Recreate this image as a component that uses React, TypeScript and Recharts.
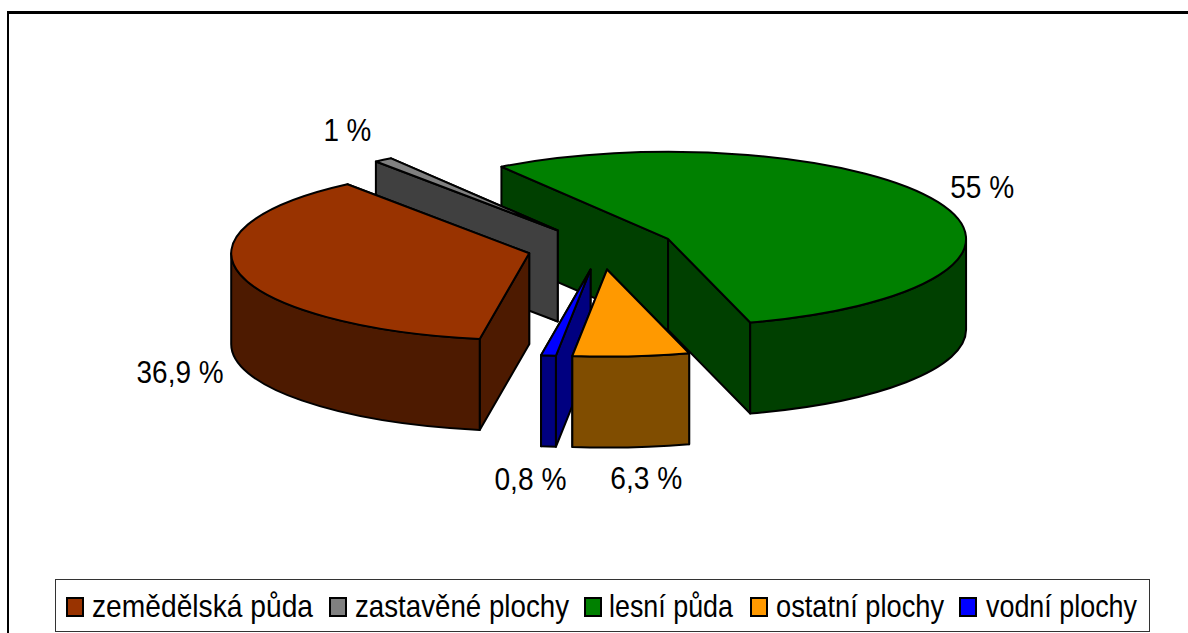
import React from 'react';
import { PieChart, Pie, Legend } from 'recharts';

const categories = ['zemědělská půda', 'zastavěné plochy', 'lesní půda', 'ostatní plochy', 'vodní plochy'];
const shares = [36.9, 1, 55, 6.3, 0.8];
const topColors = ['#993300', '#808080', '#008000', '#FF9900', '#0000FF'];
const wallColors = ['#4D1A00', '#404040', '#004000', '#804D00', '#000080'];

// label placement relative to the rim point of each slice, in legend order
const labelShiftX = [-60, -36, 44, 15, -18];
const labelShiftY = [98, -30, -15, 122, 123];
const labelWidths = [87, 48, 64, 72, 72];

// legend layout inside its box, text is squeezed like in the original
const swatchX = [11, 274, 529, 695, 904];
const legendTextX = [37, 300, 554, 721, 931];
const legendTextWidths = [221, 214, 124, 168, 151];

// the pie runs counter-clockwise from the forest slice, so slices also paint back to front
const paintOrder = [2, 1, 0, 4, 3];
const pieData = paintOrder.map(i => ({
  name: categories[i],
  value: shares[i],
  top: topColors[i],
  wall: wallColors[i],
  shiftX: labelShiftX[i],
  shiftY: labelShiftY[i],
  labelWidth: labelWidths[i],
}));

// fake 3D look
const SQUASH = 0.292;
const DEPTH = 91;
const EXPLODE = 74;
const RAD = Math.PI / 180;

const rimPoint = (ox: number, oy: number, r: number, deg: number) => ({
  x: ox + r * Math.cos(deg * RAD),
  y: oy - r * SQUASH * Math.sin(deg * RAD),
});

const apexOf = (cx: number, cy: number, mid: number) => rimPoint(cx, cy, EXPLODE, mid);

function Slice3D(props: any) {
  const { cx, cy, outerRadius: r, startAngle, endAngle, payload } = props;
  const a1 = Math.min(startAngle, endAngle);
  const a2 = Math.max(startAngle, endAngle);
  const apex = apexOf(cx, cy, (a1 + a2) / 2);
  const rx = r;
  const ry = r * SQUASH;
  const p1 = rimPoint(apex.x, apex.y, r, a1);
  const p2 = rimPoint(apex.x, apex.y, r, a2);
  const large = a2 - a1 > 180 ? 1 : 0;

  const topPath = `M${apex.x},${apex.y} L${p1.x},${p1.y} A${rx},${ry} 0 ${large} 0 ${p2.x},${p2.y} Z`;

  // radial walls, the one further back goes first
  const sides = [p1, p2]
    .sort((m, n) => m.y - n.y)
    .map(p => `M${apex.x},${apex.y} L${p.x},${p.y} L${p.x},${p.y + DEPTH} L${apex.x},${apex.y + DEPTH} Z`);

  // rim wall only exists on the front half of the ellipse
  const rims: string[] = [];
  [[-180, 0], [180, 360]].forEach(([lo, hi]) => {
    const b1 = Math.max(a1, lo);
    const b2 = Math.min(a2, hi);
    if (b2 > b1) {
      const q1 = rimPoint(apex.x, apex.y, r, b1);
      const q2 = rimPoint(apex.x, apex.y, r, b2);
      rims.push(
        `M${q1.x},${q1.y} A${rx},${ry} 0 0 0 ${q2.x},${q2.y} L${q2.x},${q2.y + DEPTH} A${rx},${ry} 0 0 1 ${q1.x},${q1.y + DEPTH} Z`
      );
    }
  });

  return (
    <g stroke="#000" strokeWidth={2} strokeLinejoin="round">
      {sides.map((d, i) => (
        <path key={`side-${i}`} d={d} fill={payload.wall} />
      ))}
      {rims.map((d, i) => (
        <path key={`rim-${i}`} d={d} fill={payload.wall} />
      ))}
      <path d={topPath} fill={payload.top} />
    </g>
  );
}

function renderLabel(props: any) {
  const { cx, cy, outerRadius, midAngle, payload, value } = props;
  const apex = apexOf(cx, cy, midAngle);
  const rim = rimPoint(apex.x, apex.y, outerRadius, midAngle);
  return (
    <text
      x={rim.x + payload.shiftX}
      y={rim.y + payload.shiftY}
      textAnchor="middle"
      dominantBaseline="central"
      fontFamily="Liberation Sans"
      fontSize={32}
      textLength={payload.labelWidth}
      lengthAdjust="spacingAndGlyphs"
      fill="#000"
      stroke="none"
    >
      {`${String(value).replace('.', ',')} %`}
    </text>
  );
}

function ChartLegend() {
  return (
    <svg width={1133} height={54} style={{ display: 'block' }}>
      <rect x={0.5} y={0.5} width={1094} height={52} fill="#fff" stroke="#333" />
      {categories.map((name, i) => (
        <g key={name}>
          <rect x={swatchX[i] + 1} y={19} width={16} height={18} fill={topColors[i]} stroke="#000" strokeWidth={2} />
          <text
            x={legendTextX[i]}
            y={38}
            fontFamily="Liberation Sans"
            fontSize={32}
            textLength={legendTextWidths[i]}
            lengthAdjust="spacingAndGlyphs"
            fill="#000"
          >
            {name}
          </text>
        </g>
      ))}
    </svg>
  );
}

export default function App() {
  return (
    <div
      style={{
        position: 'absolute',
        left: 0,
        top: 0,
        width: 1188,
        height: 633,
        overflow: 'hidden',
        background: '#fff',
      }}
    >
      {/* chart frame, cut off by the page on the right and at the bottom */}
      <div
        style={{
          position: 'absolute',
          left: 7,
          top: 11,
          width: 1300,
          height: 800,
          borderLeft: '2px solid #000',
          borderTop: '3px solid #000',
        }}
      />
      <PieChart width={1188} height={633} margin={{ top: 0, right: 0, bottom: 0, left: 0 }} style={{ position: 'absolute' }}>
        <Pie
          data={pieData}
          dataKey="value"
          nameKey="name"
          cx={601}
          cy={248}
          innerRadius={0}
          outerRadius={298}
          startAngle={-74}
          endAngle={286}
          paddingAngle={0}
          shape={Slice3D}
          label={renderLabel}
          labelLine={false}
          isAnimationActive={false}
        />
        <Legend content={<ChartLegend />} wrapperStyle={{ left: 55, top: 579, width: 1133, height: 54 }} />
      </PieChart>
    </div>
  );
}
